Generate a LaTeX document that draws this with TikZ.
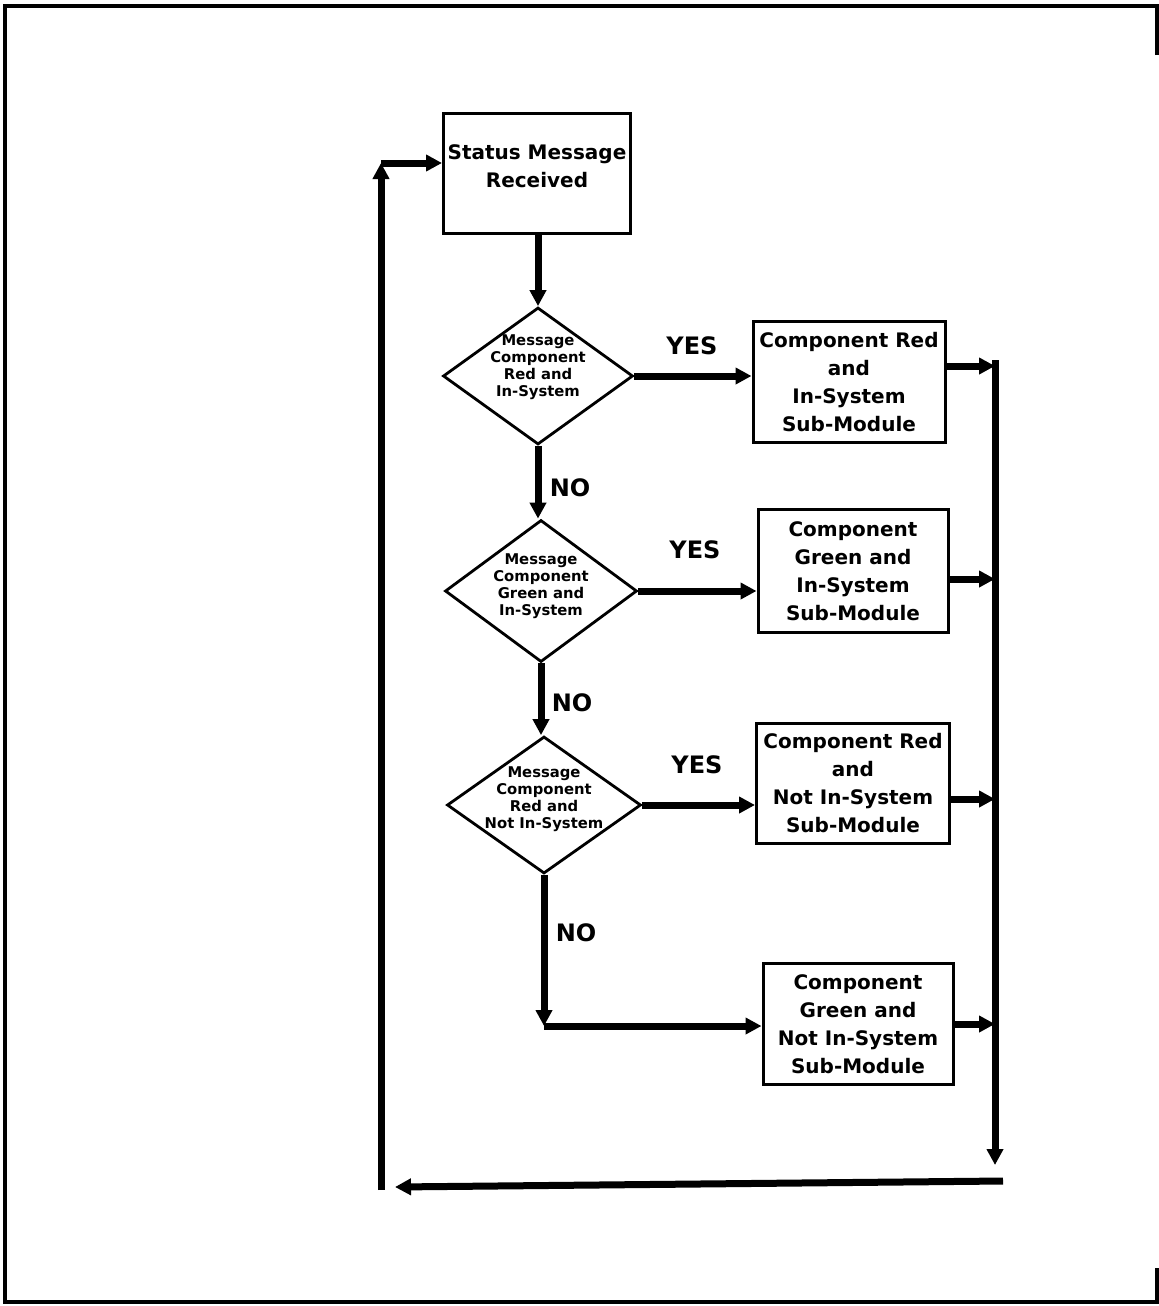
\documentclass[tikz,border=0pt]{standalone}
\usepackage{fontspec}
\setmainfont{DejaVu Sans}
\usetikzlibrary{shapes.geometric,arrows.meta}

\begin{document}
\begin{tikzpicture}[x=0.5pt,y=-0.5pt,
    box/.style={draw,line width=1.5pt,align=center,inner sep=1pt,
        font=\fontsize{10}{14}\selectfont\bfseries},
    decision/.style={draw,diamond,line width=1.4pt,inner sep=0pt},
    dtext/.style={align=center,inner sep=0pt,
        font=\fontsize{7.4}{8.5}\selectfont\bfseries},
    conn/.style={line width=3.5pt,-{Triangle[length=8pt,width=8pt]}},
    lbl/.style={font=\fontsize{12}{12}\selectfont\bfseries}]
    \useasboundingbox (0,0) rectangle (1159,1306);
    \draw[line width=2pt] (1157,55) -- (1157,6) -- (5,6) -- (5,1302) -- (1157,1302) -- (1157,1268);

    \node[box,minimum width=93.5pt,minimum height=60pt] (st) at (537,173) {Status Message\\Received\\[-7pt]};

    \node[decision,minimum width=95pt,minimum height=68.5pt] (d1) at (538,376) {};
    \node[dtext] (t1) at (538,367) {Message\\Component\\Red and\\In-System};
    \node[decision,minimum width=96pt,minimum height=71pt] (d2) at (541,591) {};
    \node[dtext] (t2) at (541,586) {Message\\Component\\Green and\\In-System};
    \node[decision,minimum width=97pt,minimum height=68.5pt] (d3) at (544,805) {};
    \node[dtext] (t3) at (544,799) {Message\\Component\\Red and\\Not In-System};

    \node[box,minimum width=96pt,minimum height=60.5pt] (b1) at (849,382) {Component Red\\and\\In-System\\Sub-Module};
    \node[box,minimum width=95pt,minimum height=61.5pt] (b2) at (853,571) {Component\\Green and\\In-System\\Sub-Module};
    \node[box,minimum width=96.5pt,minimum height=60pt] (b3) at (853,783) {Component Red\\and\\Not In-System\\Sub-Module};
    \node[box,minimum width=95pt,minimum height=60.5pt] (b4) at (858,1024) {Component\\Green and\\Not In-System\\Sub-Module};

    \node[lbl] (y1) at (692,346) {YES};
    \node[lbl] (y2) at (695,550) {YES};
    \node[lbl] (y3) at (697,765) {YES};
    \node[lbl] (n1) at (570,488) {NO};
    \node[lbl] (n2) at (572,703) {NO};
    \node[lbl] (n3) at (576,933) {NO};

    \coordinate (r1) at (995,366);
    \coordinate (r2) at (995,579);
    \coordinate (r3) at (995,799);
    \coordinate (r4) at (995,1024);
    \coordinate (rtop) at (995,360);
    \coordinate (rbot) at (995,1165);
    \coordinate (bR) at (1003,1181);
    \coordinate (bL) at (395,1187);
    \coordinate (lB) at (381,1190);
    \coordinate (lT) at (381,163);
    \coordinate (nc) at (544,1026);

    \draw[conn] (st.south -| d1.north) -- (d1.north);
    \draw[conn] (d1.south) -- (d1.south |- d2.north);
    \draw[conn] (d2.south) -- (d2.south |- d3.north);
    \draw[conn] (d1.east) -- (d1.east -| b1.west);
    \draw[conn] (d2.east) -- (d2.east -| b2.west);
    \draw[conn] (d3.east) -- (d3.east -| b3.west);
    \draw[conn] (d3.south) -- (nc);
    \draw[conn] (nc) -- (nc -| b4.west);

    \draw[conn] (b1.east |- r1) -- (r1);
    \draw[conn] (b2.east |- r2) -- (r2);
    \draw[conn] (b3.east |- r3) -- (r3);
    \draw[conn] (b4.east |- r4) -- (r4);
    \draw[conn] (rtop) -- (rbot);
    \draw[conn] (bR) -- (bL);
    \draw[conn] (lB) -- (lT);
    \draw[conn] (lT) -- (lT -| st.west);
\end{tikzpicture}
\end{document}
